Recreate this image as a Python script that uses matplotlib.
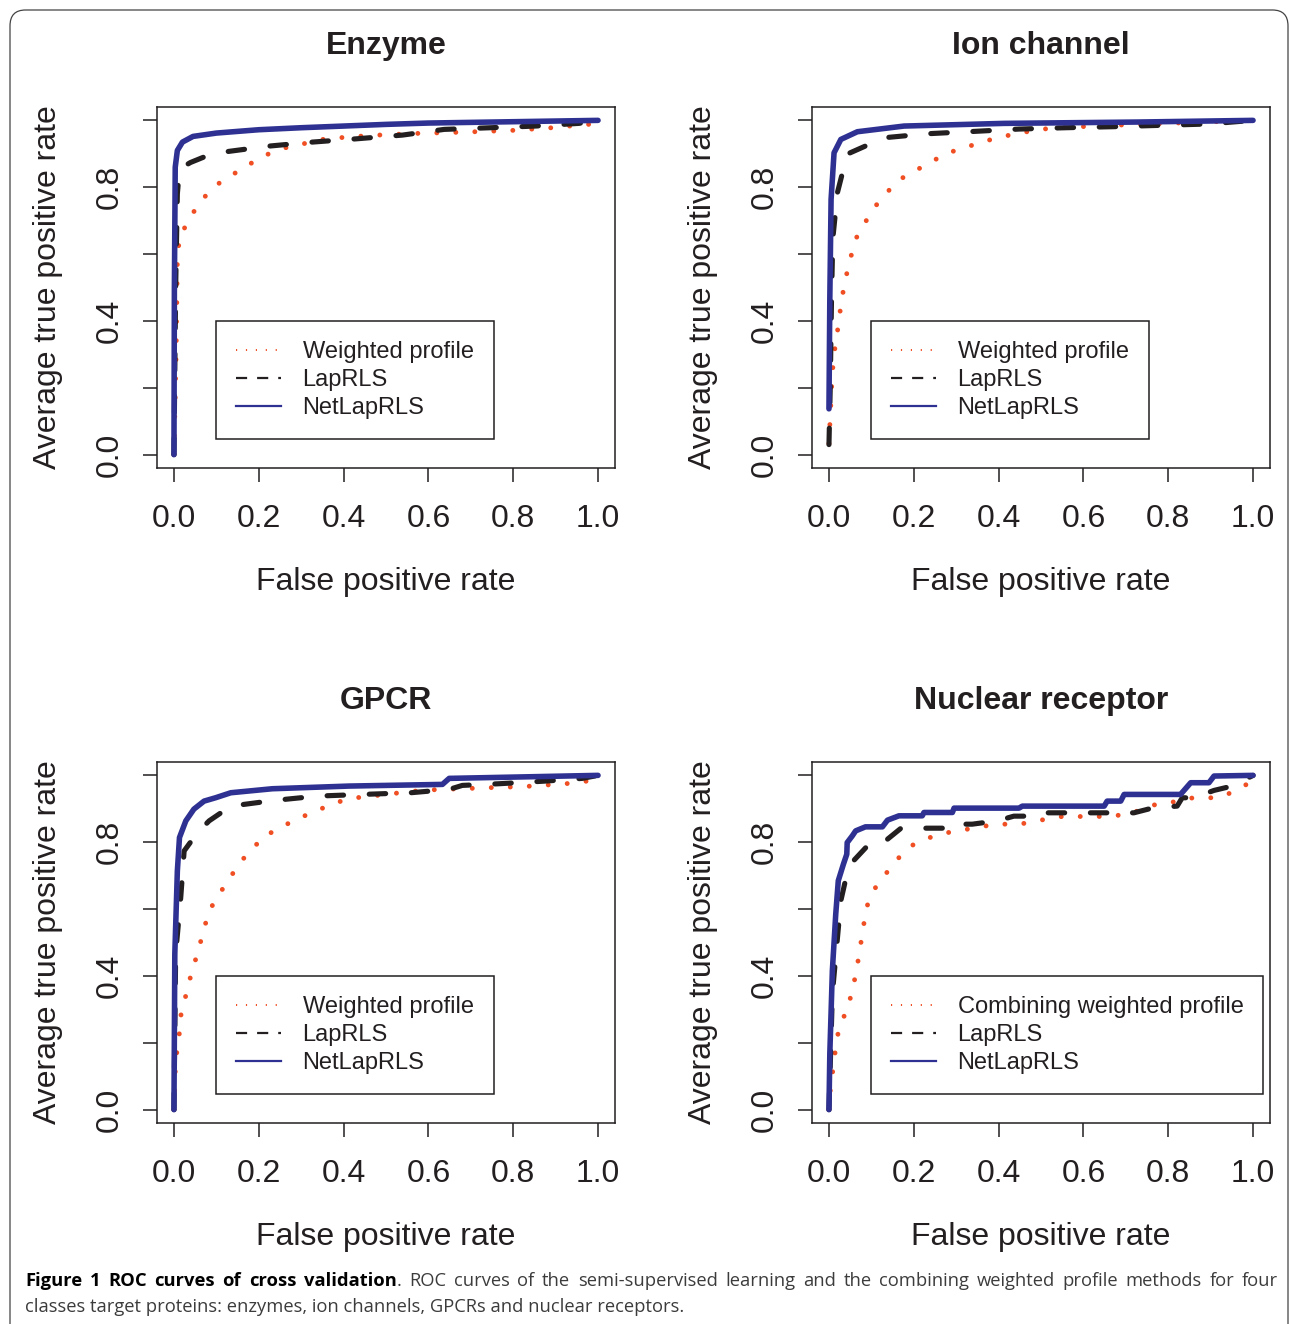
import matplotlib
matplotlib.use('Agg')
import matplotlib.pyplot as plt
from matplotlib.lines import Line2D
from matplotlib.patches import FancyBboxPatch

plt.rcParams['font.family'] = ['Liberation Sans', 'DejaVu Sans']

# ---- values ----
panel_titles = ['Enzyme', 'Ion channel', 'GPCR', 'Nuclear receptor']
method_labels = ['Weighted profile', 'LapRLS', 'NetLapRLS']
nr_method_labels = ['Combining weighted profile', 'LapRLS', 'NetLapRLS']
x_ticks = [0.0, 0.2, 0.4, 0.6, 0.8, 1.0]
x_tick_labels = ['0.0', '0.2', '0.4', '0.6', '0.8', '1.0']
y_ticks = [0.0, 0.2, 0.4, 0.6, 0.8, 1.0]
y_tick_labels = ['0.0', '', '0.4', '', '0.8', '']

# Enzyme
enz_wp_fpr = [0, 0.005, 0.008, 0.013, 0.033, 0.055, 0.081, 0.112, 0.149, 0.185, 0.222, 0.263,
              0.358, 0.464, 0.574, 0.688, 0.798, 0.904, 0.955, 1.0]
enz_wp_tpr = [0, 0.30, 0.585, 0.65, 0.697, 0.744, 0.784, 0.818, 0.846, 0.874, 0.899, 0.918,
              0.945, 0.955, 0.961, 0.965, 0.970, 0.979, 0.986, 0.99]
enz_lap_fpr = [0, 0.004, 0.008, 0.012, 0.02, 0.039, 0.07, 0.122, 0.224, 0.326, 0.432, 0.539,
               0.637, 0.747, 0.853, 0.955, 1.0]
enz_lap_tpr = [0, 0.5, 0.78, 0.84, 0.86, 0.874, 0.89, 0.906, 0.923, 0.935, 0.945, 0.956,
               0.973, 0.978, 0.983, 0.991, 1.0]
enz_net_fpr = [0, 0.001, 0.003, 0.008, 0.02, 0.045, 0.1, 0.2, 0.3, 0.4, 0.5, 0.6, 0.8, 1.0]
enz_net_tpr = [0, 0.5, 0.86, 0.91, 0.935, 0.952, 0.962, 0.972, 0.978, 0.983, 0.988, 0.992, 0.996, 1.0]

# Ion channel
ion_wp_fpr = [0, 0.008, 0.014, 0.022, 0.029, 0.038, 0.05, 0.063, 0.085, 0.108, 0.135, 0.165,
              0.203, 0.241, 0.279, 0.324, 0.368, 0.415, 0.462, 0.513, 0.621, 0.727, 1.0]
ion_wp_tpr = [0.033, 0.247, 0.318, 0.386, 0.456, 0.52, 0.584, 0.645, 0.694, 0.741, 0.782, 0.822,
              0.849, 0.876, 0.902, 0.92, 0.938, 0.953, 0.965, 0.975, 0.983, 0.988, 1.0]
ion_lap_fpr = [0, 0.003, 0.006, 0.009, 0.02, 0.043, 0.13, 0.232, 0.342, 0.448, 0.558, 0.668,
               0.778, 0.892, 1.0]
ion_lap_tpr = [0.03, 0.2, 0.466, 0.645, 0.784, 0.899, 0.948, 0.96, 0.967, 0.974, 0.978, 0.981,
               0.985, 0.989, 1.0]
ion_net_fpr = [0, 0.002, 0.005, 0.012, 0.028, 0.067, 0.177, 0.413, 0.727, 1.0]
ion_net_tpr = [0.137, 0.466, 0.764, 0.903, 0.943, 0.966, 0.983, 0.991, 0.995, 1.0]

# GPCR
gpcr_wp_fpr = [0, 0.004, 0.012, 0.017, 0.03, 0.042, 0.057, 0.069, 0.083, 0.105, 0.13, 0.152,
               0.182, 0.21, 0.249, 0.287, 0.329, 0.369, 0.415, 0.466, 0.519, 0.57, 0.625,
               0.68, 0.737, 0.79, 0.845, 0.899, 0.955, 1.0]
gpcr_wp_tpr = [0, 0.147, 0.219, 0.289, 0.351, 0.413, 0.473, 0.533, 0.594, 0.643, 0.687, 0.736,
               0.774, 0.817, 0.841, 0.869, 0.889, 0.913, 0.931, 0.938, 0.946, 0.953, 0.958,
               0.96, 0.963, 0.965, 0.968, 0.973, 0.978, 0.99]
gpcr_lap_fpr = [0, 0.004, 0.016, 0.024, 0.055, 0.083, 0.134, 0.236, 0.338, 0.444, 0.558, 0.649,
                0.68, 0.767, 0.877, 0.963, 1.0]
gpcr_lap_tpr = [0, 0.466, 0.635, 0.774, 0.828, 0.864, 0.908, 0.925, 0.938, 0.943, 0.948, 0.958,
                0.97, 0.975, 0.983, 0.991, 1.0]
gpcr_net_fpr = [0, 0.002, 0.008, 0.013, 0.028, 0.047, 0.071, 0.098, 0.134, 0.232, 0.413, 0.633,
                0.649, 0.806, 1.0]
gpcr_net_tpr = [0, 0.466, 0.714, 0.814, 0.864, 0.899, 0.923, 0.933, 0.948, 0.96, 0.968, 0.973,
                0.991, 0.995, 1.0]

# Nuclear receptor
nr_wp_fpr = [0, 0.004, 0.012, 0.018, 0.035, 0.051, 0.063, 0.072, 0.08, 0.089, 0.11, 0.138,
             0.167, 0.2, 0.244, 0.291, 0.342, 0.392, 0.45, 0.499, 0.55, 0.608, 0.664, 0.715,
             0.759, 0.81, 0.859, 0.916, 0.959, 1.0]
nr_wp_tpr = [0, 0.073, 0.142, 0.214, 0.277, 0.336, 0.403, 0.471, 0.538, 0.607, 0.665, 0.712,
             0.757, 0.794, 0.817, 0.832, 0.842, 0.854, 0.854, 0.866, 0.877, 0.877, 0.877, 0.887,
             0.91, 0.92, 0.933, 0.933, 0.953, 0.985]
nr_lap_fpr = [0, 0.008, 0.018, 0.028, 0.043, 0.059, 0.098, 0.106, 0.138, 0.17, 0.181, 0.232,
              0.28, 0.287, 0.338, 0.397, 0.436, 0.505, 0.515, 0.719, 0.762, 0.821, 0.833,
              0.86, 0.908, 0.951, 1.0]
nr_lap_tpr = [0, 0.346, 0.486, 0.625, 0.709, 0.746, 0.799, 0.809, 0.809, 0.842, 0.842, 0.842,
              0.842, 0.854, 0.854, 0.864, 0.878, 0.878, 0.888, 0.888, 0.902, 0.908, 0.933,
              0.933, 0.955, 0.968, 1.0]
nr_net_fpr = [0, 0.002, 0.008, 0.016, 0.022, 0.034, 0.042, 0.043, 0.055, 0.063, 0.086, 0.126,
              0.138, 0.165, 0.22, 0.224, 0.291, 0.295, 0.448, 0.456, 0.649, 0.656, 0.688,
              0.696, 0.829, 0.853, 0.896, 0.908, 1.0]
nr_net_tpr = [0, 0.167, 0.416, 0.585, 0.685, 0.734, 0.764, 0.799, 0.819, 0.834, 0.846, 0.846,
              0.866, 0.879, 0.879, 0.889, 0.889, 0.902, 0.902, 0.908, 0.908, 0.923, 0.923,
              0.943, 0.943, 0.978, 0.978, 0.998, 1.0]

panel_curves = [
    [(enz_wp_fpr, enz_wp_tpr), (enz_lap_fpr, enz_lap_tpr), (enz_net_fpr, enz_net_tpr)],
    [(ion_wp_fpr, ion_wp_tpr), (ion_lap_fpr, ion_lap_tpr), (ion_net_fpr, ion_net_tpr)],
    [(gpcr_wp_fpr, gpcr_wp_tpr), (gpcr_lap_fpr, gpcr_lap_tpr), (gpcr_net_fpr, gpcr_net_tpr)],
    [(nr_wp_fpr, nr_wp_tpr), (nr_lap_fpr, nr_lap_tpr), (nr_net_fpr, nr_net_tpr)],
]
panel_legends = [method_labels, method_labels, method_labels, nr_method_labels]

caption_bold = 'Figure 1 ROC curves of cross validation'
caption_line1 = ('. ROC curves of the semi-supervised learning and the combining weighted '
                 'profile methods for four')
caption_line2 = 'classes target proteins: enzymes, ion channels, GPCRs and nuclear receptors.'

# ---- styling ----
RED = '#F04E23'
INK = '#231F20'
BLUE = '#2E3192'
GREY = '#3c3c3c'
curve_styles = [
    dict(color=RED, lw=3.5, linestyle=(0, (0.01, 3.9)), dash_capstyle='round'),
    dict(color=INK, lw=3.7, linestyle=(0, (3.2, 5.0)), dash_capstyle='round'),
    dict(color=BLUE, lw=4.0, linestyle='-', solid_capstyle='round'),
]
legend_styles = [
    dict(color=RED, lw=1.4, linestyle=(0, (0.6, 4.5))),
    dict(color=INK, lw=1.6, linestyle=(0, (5.0, 4.5))),
    dict(color=BLUE, lw=1.6, linestyle='-'),
]

W, H = 1290, 1324
fig = plt.figure(figsize=(W / 100, H / 100), dpi=100)

# axes boxes in pixels: left, top, right, bottom
boxes = [(157, 107, 615, 468), (812, 107, 1270, 468),
         (157, 762, 615, 1123), (812, 762, 1270, 1123)]

for i, (l, t, r, b) in enumerate(boxes):
    ax = fig.add_axes([l / W, 1 - b / H, (r - l) / W, (b - t) / H])
    for (fpr, tpr), st in zip(panel_curves[i], curve_styles):
        ax.plot(fpr, tpr, **st)
    ax.set_xlim(-0.04, 1.04)
    ax.set_ylim(-0.04, 1.04)
    ax.set_xticks(x_ticks)
    ax.set_xticklabels(x_tick_labels)
    ax.set_yticks(y_ticks)
    ax.set_yticklabels(y_tick_labels, rotation=90, va='center')
    ax.tick_params(direction='out', length=10, width=1.1, labelsize=23,
                   colors=INK, labelcolor=INK)
    ax.tick_params(axis='x', pad=16)
    ax.tick_params(axis='y', pad=13)
    for sp in ax.spines.values():
        sp.set_linewidth(1.1)
        sp.set_color(INK)

    ax.set_xlabel('False positive rate', fontsize=23, color=INK, va='center')
    ax.xaxis.set_label_coords(0.5, -0.315)
    ax.set_ylabel('Average true positive rate', fontsize=23, color=INK, va='center')
    ax.yaxis.set_label_coords(-0.238, 0.5)
    ax.text(0.5, 1.17, panel_titles[i], transform=ax.transAxes, fontsize=23,
            fontweight='bold', ha='center', va='center', color=INK)

    handles = [Line2D([], [], **st) for st in legend_styles]
    leg = ax.legend(handles, panel_legends[i], loc='upper left', bbox_to_anchor=(0.1, 0.4),
                    bbox_transform=ax.transData, borderaxespad=0, fontsize=17,
                    fancybox=False, framealpha=1, edgecolor=INK, borderpad=0.85,
                    labelspacing=0.25, handlelength=1.9, handletextpad=0.9)
    leg.get_frame().set_linewidth(1.1)
    for txt in leg.get_texts():
        txt.set_color(INK)

# caption: size fitted to the second line, first line justified
renderer = fig.canvas.get_renderer()
cap_font = ['Open Sans', 'DejaVu Sans']
x0, x1 = 25, 1278
y1, y2 = 1 - 1281 / H, 1 - 1307 / H

line2 = fig.text(x0 / W, y2, caption_line2, fontsize=12, color=GREY, family=cap_font,
                 va='center', ha='left')
cap_size = 12 * 658 / line2.get_window_extent(renderer).width
line2.set_fontsize(cap_size)

bold_words = caption_bold.split()
reg_words = caption_line1.split()
line1_words = [(w, 'bold', 'black') for w in bold_words] + [(w, 'normal', GREY) for w in reg_words]

txts, widths = [], []
for w, wt, c in line1_words:
    tx = fig.text(0, y1, w, fontsize=cap_size, fontweight=wt, color=c, family=cap_font,
                  va='center', ha='left')
    txts.append(tx)
    widths.append(tx.get_window_extent(renderer).width)
gap = (x1 - x0 - sum(widths)) / (len(txts) - 2)
x = x0
for k, tx in enumerate(txts):
    tx.set_x(x / W)
    x += widths[k]
    if k != len(bold_words) - 1:   # the "." sits right after the bold part
        x += gap

# rounded frame around the figure
frame = FancyBboxPatch((10 / W, -0.05), (1288 - 10) / W, 1.05 - 10 / H,
                       boxstyle='round,pad=0,rounding_size=0.012', transform=fig.transFigure,
                       fill=False, edgecolor='#444444', lw=0.9)
fig.add_artist(frame)

fig.savefig('out.png', dpi=100)
